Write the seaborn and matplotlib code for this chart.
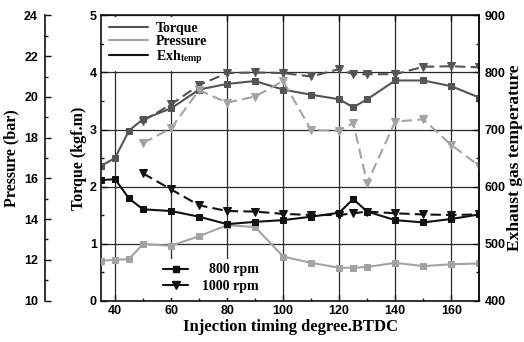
import matplotlib
matplotlib.use("Agg")
import numpy as np
import pandas as pd
import seaborn as sns
import matplotlib.pyplot as plt
from matplotlib.lines import Line2D
from matplotlib.ticker import MultipleLocator

# ---- data ----
timing_800 = [35, 40, 45, 50, 60, 70, 80, 90, 100, 110, 120, 125, 130, 140, 150, 160, 170]
timing_1000 = [50, 60, 70, 80, 90, 100, 110, 120, 125, 130, 140, 150, 160, 170]

torque_800 = [2.36, 2.50, 2.98, 3.18, 3.37, 3.70, 3.80, 3.85, 3.70, 3.61, 3.53, 3.39, 3.53, 3.86, 3.86, 3.76, 3.56]
torque_1000 = [3.15, 3.44, 3.78, 3.99, 4.00, 3.99, 3.93, 4.06, 3.97, 3.97, 3.97, 4.10, 4.11, 4.09]

pressure_800 = [11.96, 11.99, 12.04, 12.77, 12.69, 13.16, 13.70, 13.61, 12.16, 11.85, 11.61, 11.61, 11.65, 11.85, 11.69, 11.78, 11.82]
pressure_1000 = [17.73, 18.46, 20.33, 19.72, 20.02, 20.78, 18.37, 18.34, 18.71, 15.77, 18.79, 18.90, 17.64, 16.61]

exh_800 = [611, 613, 579, 560, 557, 547, 534, 538, 541, 547, 554, 578, 556, 541, 537, 543, 551]
exh_1000 = [623, 595, 567, 557, 556, 552, 550, 550, 553, 556, 553, 551, 550, 551]

x_ticks = [40, 60, 80, 100, 120, 140, 160]
series_labels = ["Torque", "Pressure", "Exh$_{\\mathbf{temp}}$"]
rpm_labels = ["  800 rpm", "1000 rpm"]

# ---- style ----
sns.set_theme(style="ticks")
plt.rcParams["font.family"] = ["Liberation Serif", "DejaVu Serif"]
plt.rcParams["mathtext.fontset"] = "stix"
plt.rcParams["axes.linewidth"] = 1.2
plt.rcParams["text.color"] = "black"
plt.rcParams["axes.labelcolor"] = "black"
plt.rcParams["xtick.color"] = "#111"
plt.rcParams["ytick.color"] = "#111"
plt.rcParams["xtick.labelcolor"] = "black"
plt.rcParams["ytick.labelcolor"] = "black"

c_torque = "#555555"
c_press = "#a3a3a3"
c_exh = "#111111"
dash = (0, (5, 2.5))

fig = plt.figure(figsize=(5.24, 3.42), dpi=100)
ax = fig.add_axes([0.1927, 0.1213, 0.7220, 0.8334])
ax_p = ax.twinx()
ax_t = ax.twinx()

def draw(axis, x, y, color, marker, ms, ls):
    sns.lineplot(x=x, y=y, ax=axis, color=color, marker=marker, markersize=ms,
                 markeredgecolor=color, markerfacecolor=color, linewidth=1.5,
                 linestyle=ls, legend=False)

# pressure (far left axis)
draw(ax_p, timing_800, pressure_800, c_press, "s", 4, "-")
draw(ax_p, timing_1000, pressure_1000, c_press, "v", 5.5, dash)
# torque
draw(ax, timing_800, torque_800, c_torque, "s", 4, "-")
draw(ax, timing_1000, torque_1000, c_torque, "v", 5.5, dash)
# exhaust temperature
draw(ax_t, timing_800, exh_800, c_exh, "s", 4, "-")
draw(ax_t, timing_1000, exh_1000, c_exh, "v", 5.5, dash)

# ---- axes ----
tick_font = dict(family="Liberation Sans", weight="bold", size=9)
lab_font = dict(family="Liberation Serif", weight="bold", size=11.5)
xlab_font = dict(family="Liberation Serif", weight="bold", size=12)
rlab_font = dict(family="Liberation Serif", weight="bold", size=12.5)

ax.set_xlim(35, 170)
ax.set_ylim(0, 5)
ax.set_xticks(x_ticks)
ax.xaxis.set_minor_locator(MultipleLocator(10))
ax.yaxis.set_major_locator(MultipleLocator(1))
ax.yaxis.set_minor_locator(MultipleLocator(0.5))
ax.tick_params(axis="both", which="major", direction="in", length=4, width=1, pad=3)
ax.tick_params(axis="both", which="minor", direction="in", length=2.5, width=1)
ax.tick_params(axis="x", which="major", top=True)
for lab in ax.get_xticklabels() + ax.get_yticklabels():
    lab.set_fontproperties(tick_font)
    lab.set_color("black")
ax.grid(True, which="major", color="#2a2a2a", linewidth=0.9)
ax.set_xlabel("Injection timing degree.BTDC", fontdict=xlab_font, labelpad=2, color="black")
ax.set_ylabel("Torque (kgf.m)", fontdict=lab_font, labelpad=2, color="black")
for s in ax.spines.values():
    s.set_color("#111")

ax_p.set_ylim(10, 24)
ax_p.spines["left"].set_position(("axes", -0.148))
ax_p.spines["left"].set_visible(True)
ax_p.spines["left"].set_color("#111")
for side in ["right", "top", "bottom"]:
    ax_p.spines[side].set_visible(False)
ax_p.yaxis.set_ticks_position("left")
ax_p.yaxis.set_label_position("left")
ax_p.yaxis.set_major_locator(MultipleLocator(2))
ax_p.yaxis.set_minor_locator(MultipleLocator(1))
ax_p.tick_params(axis="y", which="major", direction="in", length=4, width=1, pad=5)
ax_p.tick_params(axis="y", which="minor", direction="in", length=2.5, width=1)
for lab in ax_p.get_yticklabels():
    lab.set_fontproperties(tick_font)
    lab.set_color("black")
ax_p.set_ylabel("Pressure (bar)", fontdict=lab_font, labelpad=3, color="black")

ax_t.set_ylim(400, 900)
ax_t.yaxis.set_major_locator(MultipleLocator(100))
ax_t.yaxis.set_minor_locator(MultipleLocator(50))
ax_t.tick_params(axis="y", which="major", direction="in", length=4, width=1, pad=4)
ax_t.tick_params(axis="y", which="minor", direction="in", length=2.5, width=1)
for lab in ax_t.get_yticklabels():
    lab.set_fontproperties(tick_font)
    lab.set_color("black")
ax_t.set_ylabel("Exhaust gas temperature", fontdict=rlab_font, labelpad=0.5, color="black")
for side in ["left", "top", "bottom"]:
    ax_t.spines[side].set_visible(False)
ax_t.spines["right"].set_color("#111")

# ---- legends ----
leg_font = dict(family="Liberation Serif", weight="bold", size=10)
h1 = [Line2D([], [], color=c, lw=1.5) for c in (c_torque, c_press, c_exh)]
leg1 = ax_t.legend(h1, series_labels, loc="upper left", bbox_to_anchor=(0.008, 0.995),
                   prop=leg_font, frameon=True, framealpha=1, facecolor="white",
                   edgecolor="none", fancybox=False, labelspacing=0.02,
                   handlelength=2.8, handletextpad=0.6, borderpad=0.35,
                   borderaxespad=0.0)
for t in leg1.get_texts():
    t.set_color("black")
ax_t.add_artist(leg1)
h2 = [Line2D([], [], color=c_exh, lw=1.5, marker="s", ms=4),
      Line2D([], [], color=c_exh, lw=1.5, marker="v", ms=5.5)]
leg2 = ax_t.legend(h2, rpm_labels, loc="lower left", bbox_to_anchor=(0.145, 0.0),
                   prop=leg_font, frameon=True, framealpha=1, facecolor="white",
                   edgecolor="none", fancybox=False, labelspacing=0.25,
                   handlelength=1.8, handletextpad=1.0, borderpad=0.35,
                   borderaxespad=0.2)
for t in leg2.get_texts():
    t.set_color("black")

fig.savefig("out.png", dpi=100)
